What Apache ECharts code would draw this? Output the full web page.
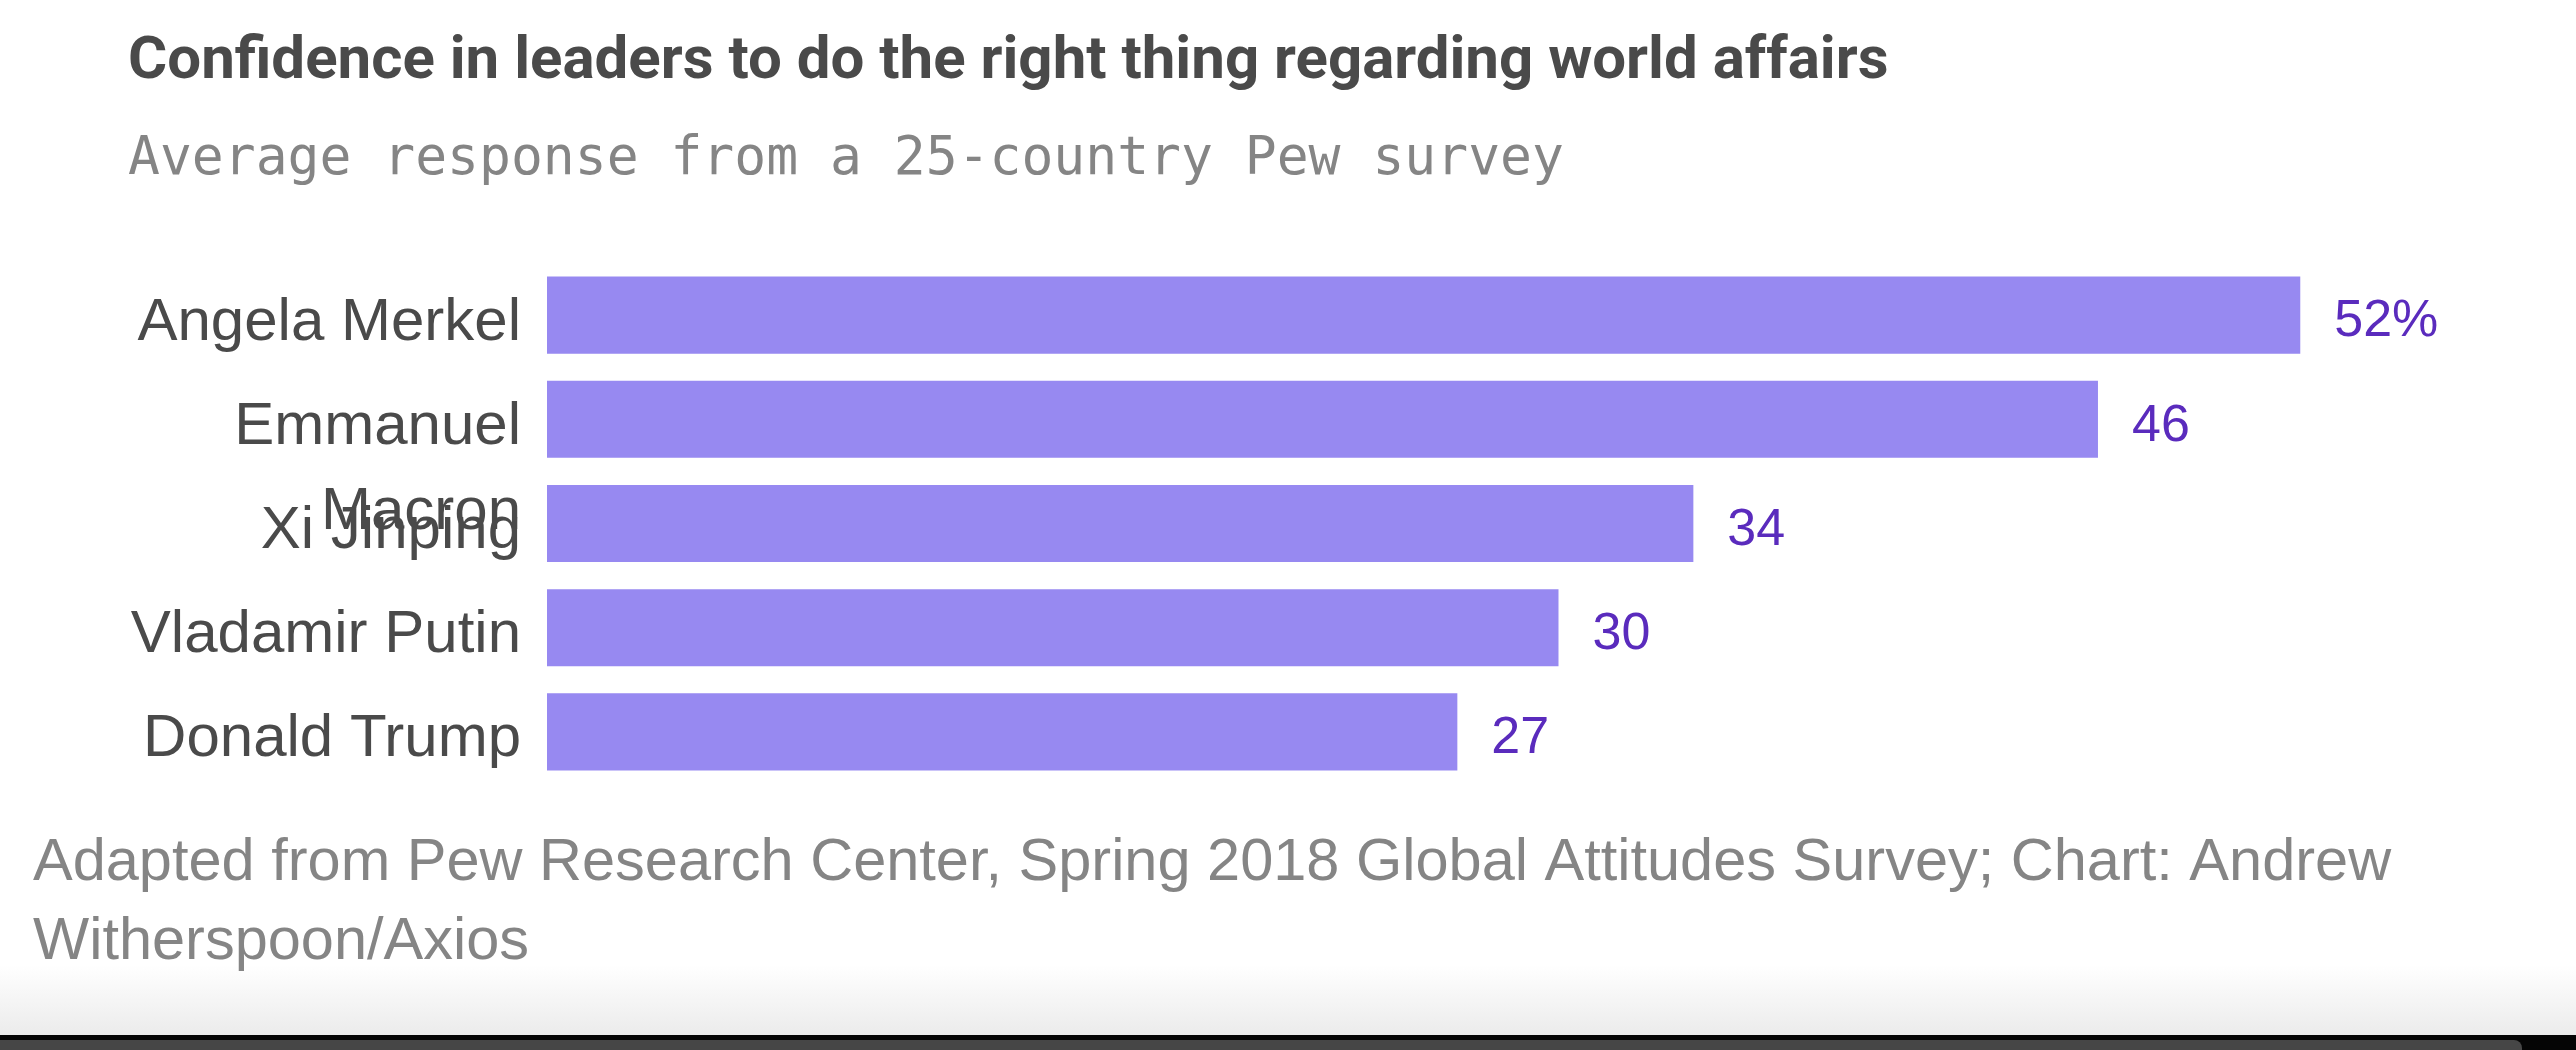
<!DOCTYPE html>
<html>
<head>
<meta charset="utf-8">
<script src="https://cdn.jsdelivr.net/npm/echarts@6/dist/echarts.min.js"></script>
<style>
html,body{margin:0;padding:0;background:#fff;}
#chart{width:2576px;height:1050px;}
</style>
</head>
<body>
<div id="chart"></div>
<script>
var leaders = ["Angela Merkel", "Emmanuel Macron", "Xi Jinping", "Vladamir Putin", "Donald Trump"];
var confidence = [52, 46, 34, 30, 27];
var titleText = "Confidence in leaders to do the right thing regarding world affairs";
var subtitleText = "Average response from a 25-country Pew survey";
var sourceLines = ["Adapted from Pew Research Center, Spring 2018 Global Attitudes Survey; Chart: Andrew", "Witherspoon/Axios"];

var chart = echarts.init(document.getElementById('chart'), null, {renderer: 'canvas'});

var option = {
  backgroundColor: '#ffffff',
  animation: false,
  title: [
    {
      text: titleText, left: 128, top: 33, padding: 0,
      textStyle: {fontFamily: 'Roboto', fontWeight: 'bold', fontSize: 60, color: '#4a4a4a'}
    },
    {
      text: subtitleText, left: 128, top: 134, padding: 0,
      textStyle: {fontFamily: 'DejaVu Sans Mono', fontWeight: 'normal', fontSize: 53, color: '#858585'}
    },
    {
      text: sourceLines.join('\n'), left: 33, top: 824, padding: 0,
      textStyle: {fontFamily: 'Liberation Sans', fontWeight: 'normal', fontSize: 59.5, lineHeight: 79, color: '#858585'}
    }
  ],
  grid: {left: 547, top: 263, height: 521, width: 2023, containLabel: false},
  xAxis: {
    type: 'value', min: 0, max: 60,
    show: false, splitLine: {show: false}
  },
  yAxis: {
    type: 'category', data: leaders, inverse: true,
    axisLine: {show: false}, axisTick: {show: false}, splitLine: {show: false},
    axisLabel: {
      interval: 0, hideOverlap: false,
      margin: 26, fontFamily: 'Liberation Sans', fontSize: 60, color: '#4a4a4a',
      verticalAlign: 'middle', align: 'right',
      rich: {
        sp: {fontSize: 4, lineHeight: 16},
        sp2: {fontSize: 4, lineHeight: 101},
        n: {fontFamily: 'Liberation Sans', fontSize: 60, lineHeight: 60, color: '#4a4a4a', align: 'right'},
        w: {fontFamily: 'Liberation Sans', fontSize: 60, lineHeight: 85, color: '#4a4a4a', align: 'right'}
      },
      formatter: function (v) {
        var parts = v.split(' ');
        if (v.length > 14 && parts.length > 1) {
          return '{sp2| }\n{w|' + parts[0] + '}\n{w|' + parts.slice(1).join(' ') + '}';
        }
        return '{sp| }\n{n|' + v + '}';
      }
    }
  },
  series: [{
    type: 'bar',
    data: confidence,
    barCategoryGap: '26%',
    itemStyle: {color: '#9789f1'},
    label: {
      show: true, position: 'right', distance: 34, offset: [0, 7],
      fontFamily: 'Liberation Sans', fontSize: 52, color: '#5a2bbd',
      formatter: function (p) { return p.dataIndex === 0 ? p.value + '%' : String(p.value); }
    }
  }],
  graphic: [
    {type: 'rect', shape: {x: 0, y: 965, width: 2576, height: 71}, silent: true, z: -1,
     style: {fill: new echarts.graphic.LinearGradient(0, 0, 0, 1, [{offset: 0, color: '#ffffff'}, {offset: 1, color: '#ebebeb'}])}},
    {type: 'rect', shape: {x: 0, y: 1035, width: 2576, height: 15}, silent: true, style: {fill: '#050505'}},
    {type: 'rect', shape: {x: 0, y: 1040, width: 2522, height: 12, r: [0, 8, 0, 0]}, silent: true, style: {fill: '#464646'}}
  ]
};
chart.setOption(option);
</script>
</body>
</html>
